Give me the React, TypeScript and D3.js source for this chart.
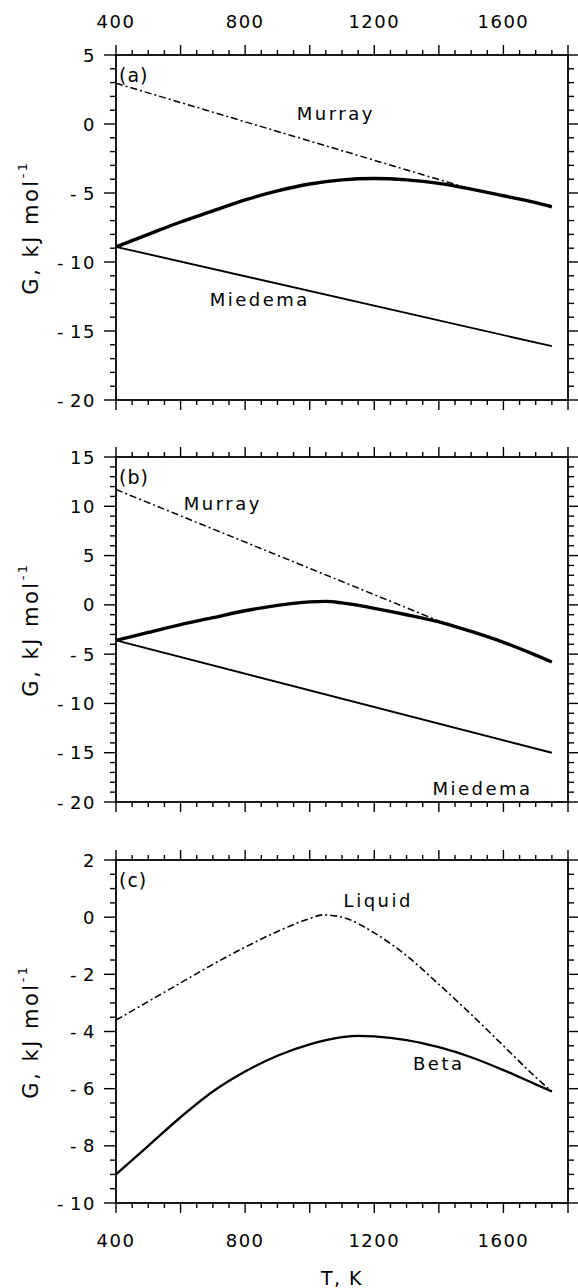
import * as d3 from "d3";

// temperature axis (shared)
const tDomain: [number, number] = [400, 1800];
const tLabels = [400, 800, 1200, 1600];
const tMajor = d3.range(400, 1801, 200);
const tMinor = d3.range(400, 1801, 50);

// panel (a)
const aDomain: [number, number] = [-20, 5];
const aLabels = [-20, -15, -10, -5, 0, 5];
const aMurray = [[400, 2.95], [1500, -4.72]];
const aBeta = [
  [400, -8.9], [500, -8.0], [600, -7.1], [700, -6.3], [800, -5.5], [900, -4.85],
  [1000, -4.35], [1100, -4.05], [1200, -3.95], [1300, -4.05], [1400, -4.3],
  [1500, -4.72], [1600, -5.2], [1700, -5.7], [1750, -6.0],
];
const aMiedema = [[400, -8.9], [1750, -16.1]];

// panel (b)
const bDomain: [number, number] = [-20, 15];
const bLabels = [-20, -15, -10, -5, 0, 5, 10, 15];
const bMurray = [[400, 11.7], [1420, -1.9]];
const bBeta = [
  [400, -3.6], [500, -2.8], [600, -2.0], [700, -1.3], [800, -0.6], [900, -0.05],
  [1000, 0.3], [1050, 0.35], [1100, 0.2], [1200, -0.35], [1300, -1.0], [1420, -1.9],
  [1500, -2.7], [1600, -3.8], [1700, -5.1], [1750, -5.8],
];
const bMiedema = [[400, -3.6], [1750, -15.0]];

// panel (c)
const cDomain: [number, number] = [-10, 2];
const cLabels = [-10, -8, -6, -4, -2, 0, 2];
const cLiquid = [
  [400, -3.6], [500, -2.95], [600, -2.3], [700, -1.65], [800, -1.05], [900, -0.5],
  [1000, -0.05], [1040, 0.08], [1100, 0.0], [1200, -0.55], [1300, -1.35],
  [1400, -2.35], [1500, -3.4], [1600, -4.5], [1700, -5.6], [1750, -6.1],
];
const cBeta = [
  [400, -9.0], [500, -8.0], [600, -7.0], [700, -6.1], [800, -5.4], [900, -4.85],
  [1000, -4.45], [1100, -4.2], [1150, -4.15], [1200, -4.17], [1300, -4.3], [1400, -4.55],
  [1500, -4.9], [1600, -5.35], [1700, -5.85], [1750, -6.1],
];

const W = 578;
const H = 1288;
const left = 116;
const right = 568;
const font = "'DejaVu Sans', sans-serif";

type Curve = { pts: number[][]; dash?: string; width: number };
type Note = { text: string; t: number; g: number };
type Panel = {
  top: number;
  bottom: number;
  domain: [number, number];
  labels: number[];
  minorStep: number;
  tag: string;
  curves: Curve[];
  notes: Note[];
};

const dashDot = "7,3,2,3";

const panels: Panel[] = [
  {
    top: 55, bottom: 400, domain: aDomain, labels: aLabels, minorStep: 1, tag: "(a)",
    curves: [
      { pts: aMurray, dash: dashDot, width: 1.5 },
      { pts: aBeta, width: 3.4 },
      { pts: aMiedema, width: 1.9 },
    ],
    notes: [
      { text: "Murray", t: 960, g: 0.3 },
      { text: "Miedema", t: 690, g: -13.2 },
    ],
  },
  {
    top: 457, bottom: 802, domain: bDomain, labels: bLabels, minorStep: 1, tag: "(b)",
    curves: [
      { pts: bMurray, dash: dashDot, width: 1.5 },
      { pts: bBeta, width: 3.4 },
      { pts: bMiedema, width: 1.9 },
    ],
    notes: [
      { text: "Murray", t: 610, g: 9.6 },
      { text: "Miedema", t: 1380, g: -19.3 },
    ],
  },
  {
    top: 860, bottom: 1203, domain: cDomain, labels: cLabels, minorStep: 0.5, tag: "(c)",
    curves: [
      { pts: cLiquid, dash: dashDot, width: 1.6 },
      { pts: cBeta, width: 2.3 },
    ],
    notes: [
      { text: "Liquid", t: 1105, g: 0.35 },
      { text: "Beta", t: 1320, g: -5.35 },
    ],
  },
];

const x = d3.scaleLinear().domain(tDomain).range([left, right]);

function PanelView({ p, first, last }: { p: Panel; first: boolean; last: boolean }) {
  const y = d3.scaleLinear().domain(p.domain).range([p.bottom, p.top]);
  const line = d3
    .line<number[]>()
    .x((d) => x(d[0]))
    .y((d) => y(d[1]))
    .curve(d3.curveMonotoneX);
  const yMinor = d3.range(p.domain[0], p.domain[1] + 1e-6, p.minorStep);
  const fmt = (v: number) => (v < 0 ? "-\u2009" + Math.abs(v) : String(v));

  return (
    <g>
      {/* x ticks, outward on top and bottom */}
      {tMinor.map((t) => {
        const len = tMajor.includes(t) ? 10 : 5;
        return (
          <g key={"t" + t}>
            <line x1={x(t)} x2={x(t)} y1={p.top} y2={p.top - len} stroke="#000" strokeWidth={1.4} />
            <line x1={x(t)} x2={x(t)} y1={p.bottom} y2={p.bottom + len} stroke="#000" strokeWidth={1.4} />
          </g>
        );
      })}
      {/* y ticks, outward on left and right */}
      {yMinor.map((v) => {
        const len = p.labels.includes(Math.round(v * 100) / 100) ? 12 : 6;
        return (
          <g key={"g" + v}>
            <line x1={left} x2={left - len} y1={y(v)} y2={y(v)} stroke="#000" strokeWidth={1.4} />
            <line x1={right} x2={right + len} y1={y(v)} y2={y(v)} stroke="#000" strokeWidth={1.4} />
          </g>
        );
      })}
      <rect x={left} y={p.top} width={right - left} height={p.bottom - p.top} fill="none" stroke="#000" strokeWidth={1.8} />
      {p.labels.map((v) => (
        <text key={"l" + v} x={left - 20} y={y(v)} textAnchor="end" dominantBaseline="central" fontSize={18} letterSpacing={1.5} fontFamily={font}>
          {fmt(v)}
        </text>
      ))}
      {first &&
        tLabels.map((t) => (
          <text key={"tt" + t} x={x(t)} y={p.top - 34} textAnchor="middle" dominantBaseline="central" fontSize={18} letterSpacing={1.5} fontFamily={font}>
            {t}
          </text>
        ))}
      {last &&
        tLabels.map((t) => (
          <text key={"tb" + t} x={x(t)} y={p.bottom + 37} textAnchor="middle" dominantBaseline="central" fontSize={18} letterSpacing={1.5} fontFamily={font}>
            {t}
          </text>
        ))}
      <text
        transform={`translate(31, ${(p.top + p.bottom) / 2}) rotate(-90)`}
        textAnchor="middle"
        dominantBaseline="central"
        fontSize={21}
        letterSpacing={2.5}
        fontFamily={font}
      >
        G,  kJ mol<tspan dy={-9} fontSize={13}>-1</tspan>
      </text>
      <text x={left + 3} y={p.top + 27} fontSize={19} letterSpacing={1} fontFamily={font}>
        {p.tag}
      </text>
      {p.curves.map((c, i) => (
        <path key={"c" + i} d={line(c.pts) ?? ""} fill="none" stroke="#000" strokeWidth={c.width} strokeDasharray={c.dash} />
      ))}
      {p.notes.map((n) => (
        <text key={n.text} x={x(n.t)} y={y(n.g)} fontSize={18} letterSpacing={2.5} fontFamily={font}>
          {n.text}
        </text>
      ))}
    </g>
  );
}

export default function App() {
  return (
    <svg width={W} height={H} style={{ display: "block", position: "absolute", left: 0, top: 0, background: "#fff" }}>
      {panels.map((p, i) => (
        <PanelView key={i} p={p} first={i === 0} last={i === panels.length - 1} />
      ))}
      <text x={(left + right) / 2} y={1278} textAnchor="middle" dominantBaseline="central" fontSize={19} fontFamily={font} letterSpacing={1.5}>
        T,  K
      </text>
    </svg>
  );
}
